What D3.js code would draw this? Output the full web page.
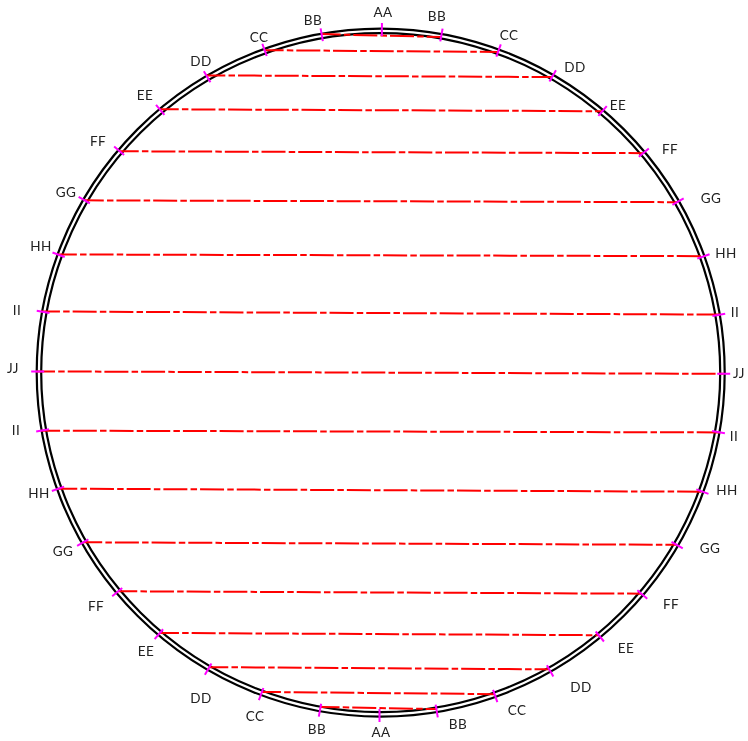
<!DOCTYPE html>
<html>
<head>
<meta charset="utf-8">
<script src="https://d3js.org/d3.v7.min.js"></script>
<style>
  body { margin: 0; background: #fff; }
  svg { will-change: transform; }
  text { font-family: Lato, sans-serif; font-size: 13.5px; letter-spacing: 0.4px; fill: #222; text-anchor: middle; dominant-baseline: central; }
</style>
</head>
<body>
<script>
// Chord names, top to bottom
var chordNames = ["BB", "CC", "DD", "EE", "FF", "GG", "HH", "II", "JJ", "II", "HH", "GG", "FF", "EE", "DD", "CC", "BB"];

// Angle of each chord end, degrees clockwise from the top
var leftAngles = [-9.9, -19.8, -30.4, -40, -49.7, -59.8, -69.9, -79.8, -89.8, -99.7, -109.8, -119.7, -129.8, -139.7, -149.8, -159.6, -169.8];
var rightAngles = [10.2, 20.1, 30.1, 40.3, 50.1, 60.1, 70.2, 80.3, 90.2, 100, 110.3, 120.2, 130.3, 140.3, 150.4, 160.5, 170.6];

// Radius of each chord end, same units as the rings
var leftRadii = [343.6, 342.7, 344.6, 343.8, 342.2, 342.4, 343.8, 345.2, 344.7, 344.5, 342.7, 342.5, 341.6, 341.3, 340.8, 340.7, 339.7];
var rightRadii = [341, 341.4, 341.6, 342.7, 342.1, 341.9, 343.7, 344.3, 343.3, 344.5, 343.4, 342.3, 341.8, 341.3, 341.3, 341.1, 341.1];

// The two AA marks, top and bottom
var poleAngles = [0.2, 180.2];

// Outer and inner ring
var ringRadii = [344, 339.5];

// Label spots on the page, hand placed like the drawing
var leftLabelSpots = [[313,20],[259,37],[201,61],[145,95],[98,141],[66,192],[41,246],[17,310],[13,368],[16,430],[39,493],[63,551],[96,606],[146,651],[201,698],[255,716],[317,729]];
var rightLabelSpots = [[437,16],[509,35],[575,67],[618,105],[670,149],[711,198],[726,253],[735,312],[739,373],[734,436],[727,490],[710,548],[671,604],[626,648],[581,687],[517,710],[458,724]];
var poleLabelSpots = [[383,12],[381,732]];

var svg = d3.select("body").append("svg")
    .attr("width", 748)
    .attr("height", 741);

var r = d3.scaleLinear().domain([0, 344]).range([0, 344]);
var angle = d3.scaleLinear().domain([0, 180]).range([0, Math.PI]);
var g = svg.append("g").attr("transform", "translate(380.7,372.6)");

// Double ring
g.selectAll("circle")
    .data(ringRadii)
    .enter().append("circle")
    .attr("r", function(d) {return r(d)})
    .attr("fill", "none")
    .attr("stroke", "#000")
    .attr("stroke-width", 2.2);

// Red chords, long dash then short dash
g.selectAll("line.chord")
    .data(chordNames)
    .enter().append("line")
    .attr("class", "chord")
    .attr("x1", function(d, i) {return d3.pointRadial(angle(leftAngles[i]), r(leftRadii[i]))[0]})
    .attr("y1", function(d, i) {return d3.pointRadial(angle(leftAngles[i]), r(leftRadii[i]))[1]})
    .attr("x2", function(d, i) {return d3.pointRadial(angle(rightAngles[i]), r(rightRadii[i]))[0]})
    .attr("y2", function(d, i) {return d3.pointRadial(angle(rightAngles[i]), r(rightRadii[i]))[1]})
    .attr("stroke", "#f00")
    .attr("stroke-width", 2)
    .attr("stroke-dasharray", "24 3.2 6.5 3")
    .attr("stroke-dashoffset", 5);

// Magenta station ticks across the ring
var tickAngles = leftAngles.concat(rightAngles, poleAngles);
g.selectAll("line.tick")
    .data(tickAngles)
    .enter().append("line")
    .attr("class", "tick")
    .attr("x1", function(d) {return d3.pointRadial(angle(d), r(336.5))[0]})
    .attr("y1", function(d) {return d3.pointRadial(angle(d), r(336.5))[1]})
    .attr("x2", function(d) {return d3.pointRadial(angle(d), r(349.5))[0]})
    .attr("y2", function(d) {return d3.pointRadial(angle(d), r(349.5))[1]})
    .attr("stroke", "#f0f")
    .attr("stroke-width", 2);

// Labels
var labels = [];
chordNames.forEach(function(name, i) {
  labels.push({name: name, spot: leftLabelSpots[i]});
  labels.push({name: name, spot: rightLabelSpots[i]});
});
poleLabelSpots.forEach(function(spot) {
  labels.push({name: "AA", spot: spot});
});

svg.selectAll("text")
    .data(labels)
    .enter().append("text")
    .attr("x", function(d) {return d.spot[0]})
    .attr("y", function(d) {return d.spot[1]})
    .text(function(d) {return d.name});
</script>
</body>
</html>
